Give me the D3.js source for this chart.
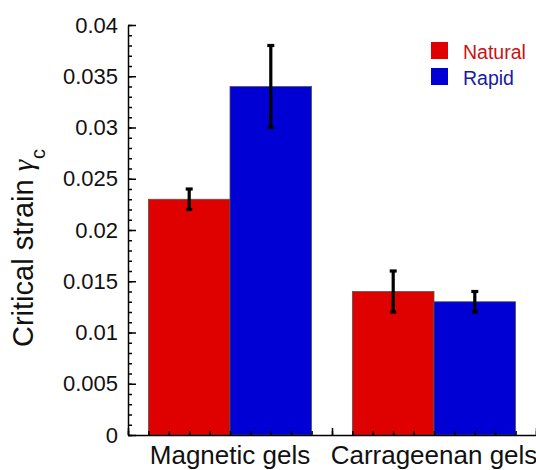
<!DOCTYPE html>
<html lang="en">
<head>
  <meta charset="UTF-8">
  <title>Critical strain</title>
  <script src="https://d3js.org/d3.v7.min.js"></script>
  <style>
    body { margin: 0; background: #fff; }
    svg { display: block; font-family: "Liberation Sans", Arial, sans-serif; }
    .axis path, .axis line { stroke: #000; stroke-width: 1.5px; }
    .axis text { fill: #111; font-size: 22px; font-family: "Liberation Sans", Arial, sans-serif; }
    .bar { stroke: #555; stroke-width: 0.8px; }
    .err { stroke: #000; stroke-width: 3.2px; }
  </style>
</head>
<body>
  <div id="chart"></div>

  <script>
    // data
    const groups = ["Magnetic gels", "Carrageenan gels"];
    const seriesNames = ["Natural", "Rapid"];
    const naturalValues = [0.023, 0.014];
    const naturalErrors = [0.001, 0.002];
    const rapidValues = [0.034, 0.013];
    const rapidErrors = [0.004, 0.001];
    const yTicks = [0, 0.005, 0.01, 0.015, 0.02, 0.025, 0.03, 0.035, 0.04];

    const width = 536;
    const height = 470;
    const plotLeft = 128, plotRight = 536, plotTop = 25, plotBottom = 435;

    const colors = { Natural: "#df0000", Rapid: "#0000d4" };
    const textColors = { Natural: "#cc1111", Rapid: "#1a1aa0" };

    const series = [
      { name: "Natural", values: naturalValues, errors: naturalErrors },
      { name: "Rapid", values: rapidValues, errors: rapidErrors }
    ];

    const svg = d3.select("#chart")
      .append("svg")
      .attr("width", width)
      .attr("height", height);

    svg.append("rect").attr("width", width).attr("height", height).attr("fill", "#fff");

    // scales
    const y = d3.scaleLinear().domain([0, 0.04]).range([plotBottom, plotTop]);
    const xLin = d3.scaleLinear().domain([0, 2]).range([plotLeft, plotRight]);
    const x0 = d3.scaleBand().domain(groups).range([plotLeft, plotRight])
      .paddingInner(0.2).paddingOuter(0.1);
    const x1 = d3.scaleBand().domain(seriesNames).range([0, x0.bandwidth()]);

    // bars
    const barData = [];
    series.forEach(s => {
      groups.forEach((g, i) => {
        barData.push({ group: g, name: s.name, value: s.values[i], err: s.errors[i] });
      });
    });

    svg.selectAll(".bar")
      .data(barData)
      .enter()
      .append("rect")
      .attr("class", "bar")
      .attr("x", d => x0(d.group) + x1(d.name))
      .attr("y", d => y(d.value))
      .attr("width", x1.bandwidth())
      .attr("height", d => y(0) - y(d.value))
      .attr("fill", d => colors[d.name]);

    // error bars
    const errG = svg.selectAll(".errbar")
      .data(barData)
      .enter()
      .append("g")
      .attr("class", "errbar")
      .attr("transform", d => `translate(${x0(d.group) + x1(d.name) + x1.bandwidth() / 2},0)`);

    errG.append("line").attr("class", "err")
      .attr("y1", d => y(d.value - d.err))
      .attr("y2", d => y(d.value + d.err));
    errG.append("line").attr("class", "err")
      .attr("x1", -3.5).attr("x2", 3.5)
      .attr("y1", d => y(d.value + d.err))
      .attr("y2", d => y(d.value + d.err));
    errG.append("line").attr("class", "err")
      .attr("x1", -3).attr("x2", 3)
      .attr("y1", d => y(d.value - d.err))
      .attr("y2", d => y(d.value - d.err));

    // y axis, minor then major ticks pointing inward
    svg.append("g")
      .attr("class", "axis")
      .attr("transform", `translate(${plotLeft},0)`)
      .call(d3.axisLeft(y).tickValues(d3.range(0, 0.0405, 0.001)).tickSize(-4).tickSizeOuter(0).tickFormat(""))
      .select(".domain").remove();

    svg.append("g")
      .attr("class", "axis")
      .attr("transform", `translate(${plotLeft},0)`)
      .call(d3.axisLeft(y).tickValues(yTicks).tickSize(-8).tickSizeOuter(0).tickPadding(10)
        .tickFormat(d => d === 0 ? "0" : String(+d.toFixed(3))));

    // x axis, ticks only
    svg.append("g")
      .attr("class", "axis")
      .attr("transform", `translate(0,${plotBottom})`)
      .call(d3.axisBottom(xLin).tickValues(d3.range(0, 2.05, 0.1)).tickSize(-4).tickSizeOuter(0).tickFormat(""))
      .select(".domain").remove();

    svg.append("g")
      .attr("class", "axis")
      .attr("transform", `translate(0,${plotBottom})`)
      .call(d3.axisBottom(xLin).tickValues([0, 1, 2]).tickSize(-7).tickSizeOuter(0).tickFormat(""));

    // category labels
    svg.selectAll(".cat")
      .data(groups)
      .enter()
      .append("text")
      .attr("class", "cat")
      .attr("x", d => x0(d) + x0.bandwidth() / 2)
      .attr("y", 464)
      .attr("text-anchor", "middle")
      .attr("font-size", 26)
      .attr("fill", "#111")
      .text(d => d);

    // y label
    const yl = svg.append("text")
      .attr("transform", `translate(32.5,347) rotate(-90)`)
      .attr("font-size", 29)
      .attr("fill", "#111");
    yl.append("tspan").text("Critical strain ");
    yl.append("tspan").attr("font-style", "italic")
      .attr("font-family", "'Liberation Serif', serif").text("γ");
    yl.append("tspan").attr("font-size", 20).attr("dy", 12).attr("dx", 1).text("c");

    // legend
    const legend = svg.append("g").attr("transform", "translate(431,42)");
    const item = legend.selectAll("g")
      .data(seriesNames)
      .enter()
      .append("g")
      .attr("transform", (d, i) => `translate(0,${i * 26})`);
    item.append("rect")
      .attr("width", 17).attr("height", 17)
      .attr("fill", d => colors[d]);
    item.append("text")
      .attr("x", 32).attr("y", 16.5)
      .attr("font-size", 19.5)
      .attr("fill", d => textColors[d])
      .text(d => d);
  </script>
</body>
</html>
